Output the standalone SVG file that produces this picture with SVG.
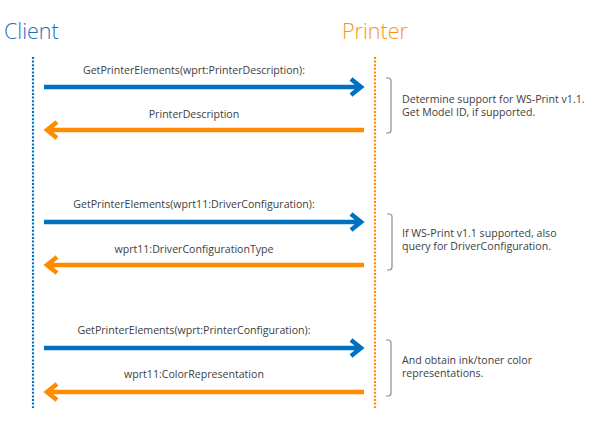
<svg xmlns="http://www.w3.org/2000/svg" width="601" height="438" viewBox="0 0 601 438">
<style>
.title{font-family:"Open Sans","Noto Sans","Liberation Sans",sans-serif;font-size:21.5px;font-weight:300}
.lbl{font-family:"Open Sans","Noto Sans","Liberation Sans",sans-serif;font-size:10.6px;fill:#404040;text-anchor:middle}
.note{font-family:"Open Sans","Noto Sans","Liberation Sans",sans-serif;font-size:10.6px;fill:#404040}
.life{fill:none;stroke-width:2.2;stroke-dasharray:2 1.6}
.req{fill:none;stroke:#0070C0;stroke-width:4.5}
.rsp{fill:none;stroke:#FF8C00;stroke-width:4.5}
.brk{fill:none;stroke:#8c8c8c;stroke-width:1.2}
</style>
<rect width="601" height="438" fill="#ffffff"/>
<g id="client">
<text class="title" x="4" y="39" fill="#1F6FC0">Client</text>
<line class="life" x1="33" y1="57" x2="33" y2="408" stroke="#0070C0"/>
</g>
<g id="printer">
<text class="title" x="342" y="39" fill="#F7941D">Printer</text>
<line class="life" x1="375" y1="57" x2="375" y2="408" stroke="#FF8C00"/>
</g>
<g id="connectors">
<path class="req" d="M44 87H361M351 79L361 87L351 95"/>
<path class="rsp" d="M364 130H47M57 122L47 130L57 138"/>
<path class="req" d="M44 222H361M351 214L361 222L351 230"/>
<path class="rsp" d="M364 265H47M57 257L47 265L57 273"/>
<path class="req" d="M44 348H361M351 340L361 348L351 356"/>
<path class="rsp" d="M364 392H47M57 384L47 392L57 400"/>
</g>
<g id="labels">
<text class="lbl" x="194" y="74">GetPrinterElements(wprt:PrinterDescription):</text>
<text class="lbl" x="194" y="118">PrinterDescription</text>
<text class="lbl" x="194" y="208">GetPrinterElements(wprt11:DriverConfiguration):</text>
<text class="lbl" x="194" y="253">wprt11:DriverConfigurationType</text>
<text class="lbl" x="194" y="334">GetPrinterElements(wprt:PrinterConfiguration):</text>
<text class="lbl" x="194" y="378">wprt11:ColorRepresentation</text>
</g>
<g id="note1">
<path class="brk" d="M386 78H388Q391 78 391 81V130Q391 133 388 133H386"/>
<text class="note" x="402" y="103">Determine support for WS-Print v1.1.</text>
<text class="note" x="402" y="116">Get Model ID, if supported.</text>
</g>
<g id="note2">
<path class="brk" d="M387 214H389Q392 214 392 217V267Q392 270 389 270H387"/>
<text class="note" x="402" y="237">If WS-Print v1.1 supported, also</text>
<text class="note" x="402" y="250">query for DriverConfiguration.</text>
</g>
<g id="note3">
<path class="brk" d="M386 340H388Q391 340 391 343V393Q391 396 388 396H386"/>
<text class="note" x="402" y="364">And obtain ink/toner color</text>
<text class="note" x="402" y="377">representations.</text>
</g>
</svg>
